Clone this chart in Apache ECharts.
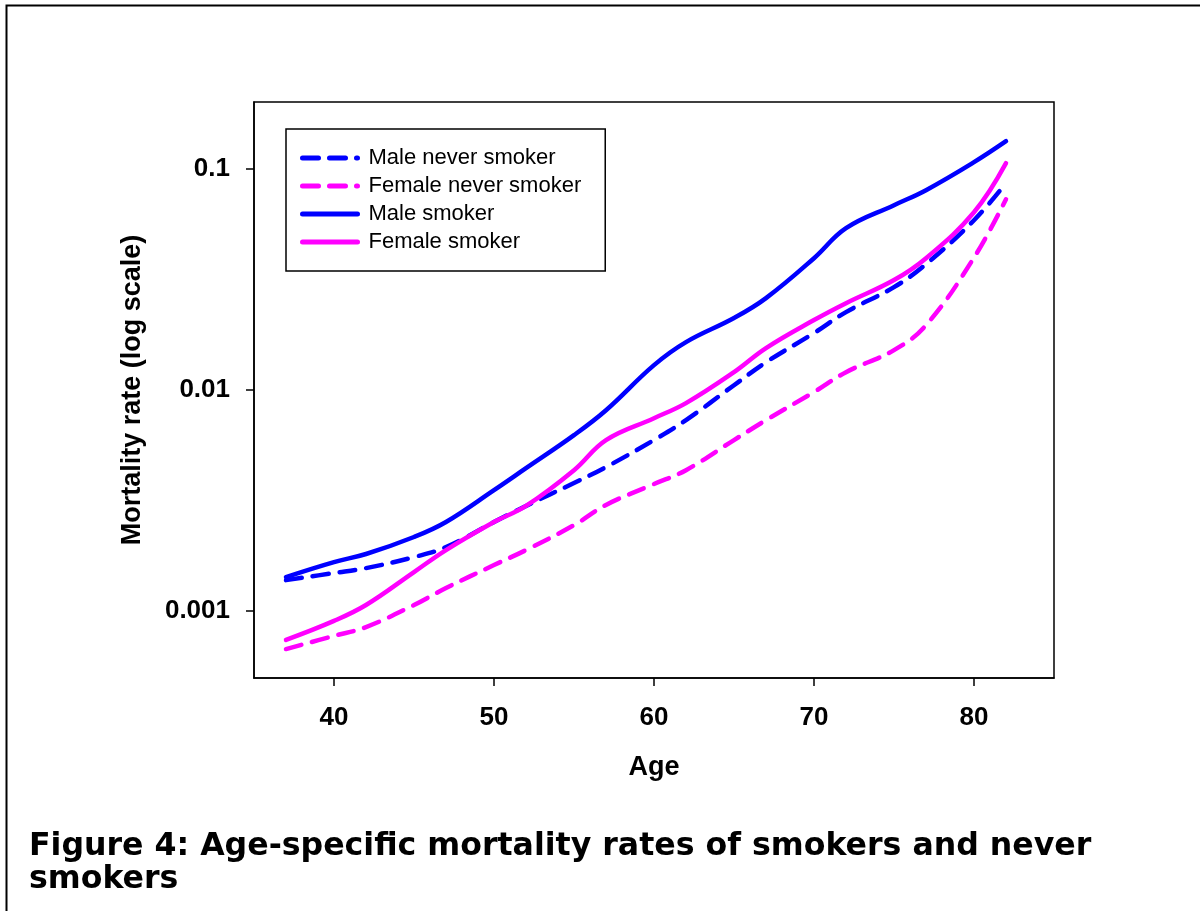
<!DOCTYPE html>
<html>
<head>
<meta charset="utf-8">
<script src="https://cdn.jsdelivr.net/npm/echarts@6/dist/echarts.min.js"></script>
<style>
html,body{margin:0;padding:0;background:#fff;}
#chart{width:1200px;height:911px;}
</style>
</head>
<body>
<div id="chart"></div>
<script>
// ---- data ----
const ages = [37, 40, 42, 45, 47, 50, 52, 55, 57, 60, 62, 65, 67, 70, 72, 75, 77, 80, 82];
const maleNever    = [0.00137, 0.001475, 0.001553, 0.001742, 0.001932, 0.00251, 0.00297, 0.00377, 0.00445, 0.0059, 0.00726, 0.01045, 0.01327, 0.01799, 0.02239, 0.02904, 0.0369, 0.0583, 0.0859];
const femaleNever  = [0.000668, 0.000766, 0.00084, 0.001057, 0.001262, 0.001603, 0.001874, 0.00243, 0.00300, 0.00373, 0.00431, 0.0059, 0.00726, 0.00973, 0.01197, 0.01507, 0.01953, 0.0395, 0.0726];
const maleSmoker   = [0.001415, 0.001654, 0.001799, 0.002148, 0.002512, 0.0035, 0.0044, 0.00621, 0.00805, 0.01288, 0.01637, 0.02104, 0.0259, 0.03926, 0.0537, 0.06823, 0.0798, 0.1068, 0.1329];
const femaleSmoker = [0.000735, 0.000896, 0.001057, 0.00149, 0.001874, 0.00251, 0.00297, 0.00431, 0.0059, 0.00741, 0.00867, 0.01197, 0.01538, 0.0206, 0.02456, 0.03126, 0.03926, 0.0634, 0.1057];
const seriesNames = ['Male never smoker', 'Female never smoker', 'Male smoker', 'Female smoker'];
const xTicks = [40, 50, 60, 70, 80];
const yTicks = [0.001, 0.01, 0.1];
const captionText = 'Figure 4: Age-specific mortality rates of smokers and never\nsmokers';

const pair = arr => ages.map((a, i) => [a, arr[i]]);
const BLUE = '#0000ff', MAG = '#ff00ff';
const DASH = [16, 11];

function mk(name, arr, color, dashed) {
  return {
    name: name, type: 'line', data: pair(arr), smooth: 0.4,
    symbol: 'none', showSymbol: false,
    lineStyle: { color: color, width: 4.5, type: dashed ? DASH : 'solid', cap: 'round', join: 'round' },
    itemStyle: { color: color },
    emphasis: { disabled: true }
  };
}

const chart = echarts.init(document.getElementById('chart'), null, { renderer: 'canvas' });
chart.setOption({
  animation: false,
  backgroundColor: '#fff',
  grid: { left: 254, top: 102, right: 146, bottom: 233, show: true, borderColor: '#000', borderWidth: 1.5, containLabel: false },
  xAxis: {
    type: 'value', min: 35, max: 85,
    name: 'Age', nameLocation: 'middle', nameGap: 76,
    nameTextStyle: { fontFamily: 'Liberation Sans', fontWeight: 'bold', fontSize: 27, color: '#000' },
    axisLine: { show: true, onZero: false, lineStyle: { color: '#000', width: 1.5 } },
    axisTick: { show: true, length: 8, lineStyle: { color: '#000', width: 1.5 }, customValues: xTicks },
    axisLabel: { customValues: xTicks, margin: 27, fontFamily: 'Liberation Sans', fontWeight: 'bold', fontSize: 26, color: '#000' },
    splitLine: { show: false }
  },
  yAxis: {
    type: 'log', logBase: 10, min: 0.000494, max: 0.2,
    name: 'Mortality rate (log scale)', nameLocation: 'middle', nameGap: 108,
    nameTextStyle: { fontFamily: 'Liberation Sans', fontWeight: 'bold', fontSize: 27, color: '#000' },
    axisLine: { show: true, lineStyle: { color: '#000', width: 1.5 } },
    axisTick: { show: true, length: 8, lineStyle: { color: '#000', width: 1.5 }, customValues: yTicks },
    axisLabel: { customValues: yTicks, margin: 24, fontFamily: 'Liberation Sans', fontWeight: 'bold', fontSize: 26, color: '#000',
      formatter: v => String(v) },
    splitLine: { show: false }, minorTick: { show: false }
  },
  legend: {
    left: 286, top: 129, orient: 'vertical',
    padding: [18, 24, 18, 14], borderColor: '#000', borderWidth: 1.5, backgroundColor: '#fff',
    itemWidth: 55, itemHeight: 14, itemGap: 6,
    itemStyle: { color: 'rgba(0,0,0,0)', borderWidth: 0 },
    lineStyle: { width: 5, cap: 'round' },
    textStyle: { fontFamily: 'Liberation Sans', fontSize: 22, color: '#000', padding: [0, 0, 0, 6] },
    data: seriesNames, selectedMode: false
  },
  series: [
    mk(seriesNames[0], maleNever, BLUE, true),
    mk(seriesNames[1], femaleNever, MAG, true),
    mk(seriesNames[2], maleSmoker, BLUE, false),
    mk(seriesNames[3], femaleSmoker, MAG, false)
  ],
  graphic: [
    { type: 'rect', left: 4, top: 3, silent: true, z: -1,
      shape: { x: 0, y: 0, width: 1250, height: 1000 },
      style: { fill: 'none', stroke: '#000', lineWidth: 2 } },
    { type: 'text', left: 29, top: 830, silent: true,
      style: { text: captionText, fontFamily: 'DejaVu Sans', fontWeight: 'bold', fontSize: 31.6, lineHeight: 33.5, fill: '#000' } }
  ]
});
</script>
</body>
</html>
